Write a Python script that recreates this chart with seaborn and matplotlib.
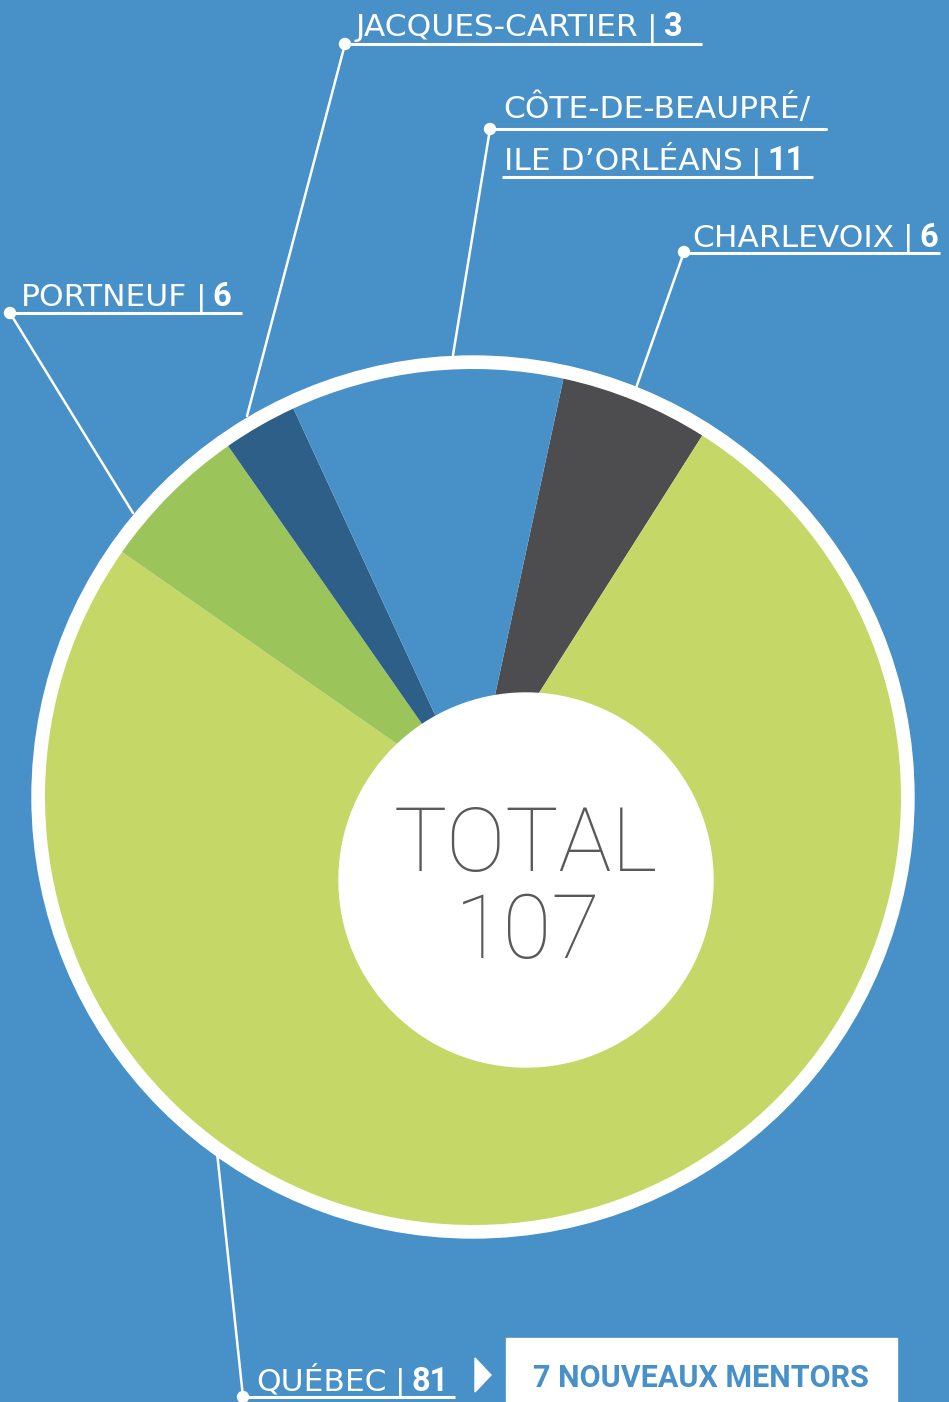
import matplotlib
matplotlib.use("Agg")
import matplotlib.pyplot as plt
import seaborn as sns
from matplotlib.patches import Circle, Polygon, Rectangle

sns.set_style("white")
plt.rcParams['font.family'] = ['Roboto', 'DejaVu Sans']

# ---- data ----
regions = ["Charlevoix", "Québec", "Portneuf", "Jacques-Cartier", "Côte-de-Beaupré/Ile d'Orléans"]
values = [6, 81, 6, 3, 11]
total = 107
new_mentors = "7 NOUVEAUX MENTORS"
label_texts = ["CHARLEVOIX", "QUÉBEC", "PORTNEUF", "JACQUES-CARTIER", "ILE D’ORLÉANS"]
label_numbers = ["6", "81", "6", "3", "11"]

BG = "#4790C8"
colors = ["#4D4D4F", "#C5D867", "#9BC55B", "#2D5F88", "#4790C8"]

W, H = 949, 1402
fig = plt.figure(figsize=(W / 100, H / 100), dpi=100, facecolor=BG)
ax = fig.add_axes([0, 0, 1, 1])
ax.set_facecolor(BG)

def Y(y):
    return H - y

cx, cy, R = 473, 797, 428
ax.pie(values, colors=colors, startangle=77.8, counterclock=False, radius=R,
       center=(cx, Y(cy)), wedgeprops=dict(linewidth=0))
for w in ax.patches:
    w.set_zorder(2)
ax.add_patch(Circle((cx, Y(cy)), 441, color="white", zorder=1))
ax.add_patch(Circle((526, Y(880)), 187, color="white", zorder=3))
ax.set_xlim(0, W)
ax.set_ylim(0, H)
ax.set_aspect("equal")
ax.axis("off")

ax.text(526, Y(871), "TOTAL", ha="center", va="baseline", fontsize=64, fontweight="light",
        color="#58595B", zorder=4)
ax.text(528, Y(958), str(total), ha="center", va="baseline", fontsize=64, fontweight="light",
        color="#58595B", zorder=4)

FS = 22.5
LFONT = ["DejaVu Sans"]
renderer = fig.canvas.get_renderer()

def label(x_text, base, txt, num, ul_y, ul_x0, ul_x1):
    t = ax.text(x_text, Y(base), txt, ha="left", va="baseline", fontsize=FS, family=LFONT,
                fontweight="normal", color="white", zorder=5)
    x_end = t.get_window_extent(renderer=renderer).x1
    x_bar = x_end + 14
    ax.text(x_bar, Y(base), "|", ha="center", va="baseline", fontsize=FS, family=LFONT,
            fontweight="normal", color="white", zorder=5)
    ax.text(x_bar + 11, Y(base), num, ha="left", va="baseline", fontsize=FS + 1,
            fontweight="bold", color="white", zorder=5)
    ax.plot([ul_x0, ul_x1], [Y(ul_y), Y(ul_y)], color="white", lw=2.2, zorder=5,
            solid_capstyle="butt")

def leader(x0, y0, x1, y1):
    ax.plot([x0, x1], [Y(y0), Y(y1)], color="white", lw=1.8, zorder=5)
    ax.add_patch(Circle((x0, Y(y0)), 5.5, color="white", zorder=6))

# Charlevoix
label(692, 247, label_texts[0], label_numbers[0], 253, 684, 940)
leader(684, 252, 636, 388)
# Côte-de-Beaupré
ax.text(503, Y(118), "CÔTE-DE-BEAUPRÉ/", ha="left", va="baseline", fontsize=FS,
        family=LFONT, fontweight="normal", color="white", zorder=5)
ax.plot([490, 826], [Y(129), Y(129)], color="white", lw=2.2, zorder=5)
label(504, 170, label_texts[4], label_numbers[4], 177, 502, 813)
leader(490, 129, 453, 355)
# Jacques-Cartier
label(356, 36, label_texts[3], label_numbers[3], 44, 345, 702)
leader(345, 44, 247, 416)
# Portneuf
label(21, 306, label_texts[2], label_numbers[2], 313, 10, 242)
leader(10, 313, 133, 513)
# Québec
label(256, 1391, label_texts[1], label_numbers[1], 1397, 243, 455)
leader(243, 1397, 217, 1152)

# arrow and box
ax.add_patch(Polygon([(475, Y(1358)), (475, Y(1392)), (491, Y(1375))], closed=True,
                     color="white", zorder=5))
ax.add_patch(Rectangle((506, Y(1402)), 391, 64, color="white", zorder=5))
ax.text(701, Y(1378), new_mentors, ha="center", va="center", fontsize=22, fontweight="bold",
        color=BG, zorder=6)

fig.savefig("out.png", dpi=100, facecolor=BG)
